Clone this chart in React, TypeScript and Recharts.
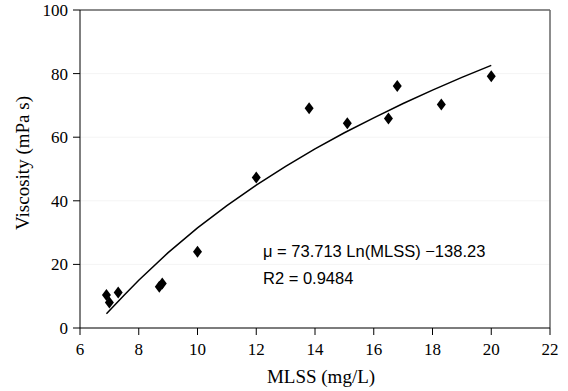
// Viscosity vs MLSS scatter with a logarithmic trend line and the fit equation.
import React from "react";
import {
  CartesianGrid, ReferenceLine, Scatter, ScatterChart, XAxis, YAxis,
} from "recharts";

const MLSS = [6.9, 7.0, 7.3, 8.7, 8.8, 10.0, 12.0, 13.8, 15.1, 16.5, 16.8, 18.3, 20.0];
const VISCOSITY = [10.4, 8.0, 11.2, 13.0, 14.0, 24.0, 47.3, 69.1, 64.4, 65.9, 76.1, 70.3, 79.2];

// trend line
const TREND_X = [6.9, 7.5, 8, 9, 10, 11, 12, 13, 14, 15, 16, 17, 18, 19, 20];
const TREND_Y = [4.5, 10.3, 15.0, 23.7, 31.5, 38.5, 44.9, 50.8, 56.3, 61.4, 66.1, 70.6, 74.8, 78.8, 82.6];

const X_TICKS = [6, 8, 10, 12, 14, 16, 18, 20, 22];
const Y_TICKS = [0, 20, 40, 60, 80, 100];

const points = MLSS.map((x, i) => ({ x, y: VISCOSITY[i] }));
const trend = TREND_X.map((x, i) => ({ x, y: TREND_Y[i] }));

const SERIF = "'Liberation Serif', 'Times New Roman', serif";
const SANS = "'Liberation Sans', Arial, sans-serif";
const tick = { fill: "#000", fontSize: 17, fontFamily: SERIF };

function Diamond(props: any) {
  const { cx, cy } = props;
  if (cx == null || cy == null) return null;
  return (
    <polygon
      points={`${cx},${cy - 6} ${cx + 4.5},${cy} ${cx},${cy + 6} ${cx - 4.5},${cy}`}
      fill="#000"
    />
  );
}

function XLabel({ viewBox }: any) {
  const cx = viewBox.x + viewBox.width / 2 + 6;
  return (
    <text x={cx} y={383} textAnchor="middle" fontFamily={SERIF} fontSize={19} fill="#000">
      MLSS (mg/L)
    </text>
  );
}

function YLabel() {
  return (
    <text x={22} y={163} transform="rotate(-90 22 163)" textAnchor="middle" dominantBaseline="central"
      fontFamily={SERIF} fontSize={19} fill="#000">
      Viscosity (mPa s)
    </text>
  );
}

const eq = { position: "absolute" as const, left: 263, fontFamily: SANS, fontSize: 16.5, lineHeight: "16.5px", whiteSpace: "nowrap" as const };

export default function App() {
  return (
    <div style={{ position: "absolute", left: 0, top: 0, width: 568, height: 391, background: "#fff" }}>
      <ScatterChart width={568} height={391} margin={{ top: 10, right: 18, bottom: 8, left: 0 }}>
        <CartesianGrid horizontal vertical={false} stroke="#f4f4f4" />
        <XAxis
          type="number" dataKey="x" domain={[6, 22]} ticks={X_TICKS} allowDataOverflow
          height={55} tickSize={7} tickMargin={8} tick={tick}
          axisLine={{ stroke: "#000" }} tickLine={{ stroke: "#000" }}
          label={<XLabel />}
        />
        <YAxis
          type="number" dataKey="y" domain={[0, 100]} ticks={Y_TICKS} allowDataOverflow
          width={80} tickSize={7} tickMargin={5} tick={tick}
          axisLine={{ stroke: "#000" }} tickLine={{ stroke: "#000" }}
          label={<YLabel />}
        />
        <ReferenceLine y={100} stroke="#666" strokeWidth={1.5} />
        <ReferenceLine x={22} stroke="#666" strokeWidth={1.5} />
        <Scatter
          data={trend} line={{ stroke: "#000", strokeWidth: 1.5 }} shape={() => null}
          isAnimationActive={false}
        />
        <Scatter data={points} shape={<Diamond />} isAnimationActive={false} />
      </ScatterChart>
      <div style={{ ...eq, top: 243 }}>μ = 73.713 Ln(MLSS) −138.23</div>
      <div style={{ ...eq, top: 270 }}>R2 = 0.9484</div>
    </div>
  );
}
